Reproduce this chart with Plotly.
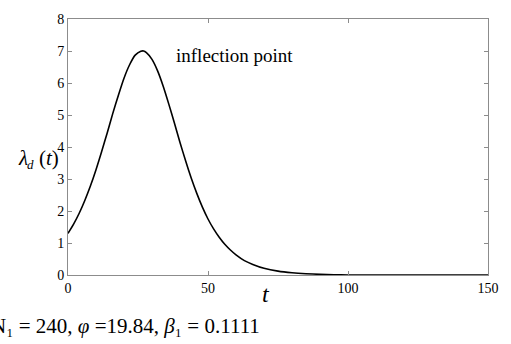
import plotly.graph_objects as go

# Time points and the fitted intensity lambda_d(t)
t_values = [0, 2, 4, 6, 8, 10, 12, 14, 16, 18, 20, 22, 24, 26, 27, 28, 30,
            32, 34, 36, 38, 40, 42, 44, 46, 48, 50, 52, 54, 56, 58, 60, 63,
            66, 70, 75, 80, 85, 90, 95, 100, 110, 120, 130, 140, 150]
lambda_values = [1.30, 1.59, 1.93, 2.33, 2.78, 3.29, 3.85, 4.44, 5.05, 5.62,
                 6.15, 6.57, 6.87, 6.99, 7.00, 6.95, 6.74, 6.38, 5.90, 5.34,
                 4.75, 4.14, 3.57, 3.03, 2.55, 2.12, 1.75, 1.44, 1.18, 0.96,
                 0.78, 0.63, 0.45, 0.33, 0.21, 0.12, 0.07, 0.04, 0.02, 0.01,
                 0.0, 0.0, 0.0, 0.0, 0.0, 0.0]

x_ticks = [0, 50, 100, 150]
y_ticks = [0, 1, 2, 3, 4, 5, 6, 7, 8]

SERIF = "Liberation Serif"
AXIS_GREY = "#8c8c8c"

fig = go.Figure()
fig.add_trace(go.Scatter(
    x=t_values, y=lambda_values, mode="lines",
    line=dict(color="black", width=1.6, shape="spline", smoothing=0.5),
    showlegend=False,
))

axis_common = dict(
    showgrid=False, zeroline=False, showline=True, linecolor=AXIS_GREY,
    linewidth=1, mirror="ticks", ticks="inside", ticklen=4,
    tickcolor=AXIS_GREY, tickfont=dict(family=SERIF, size=14, color="black"),
)

fig.update_xaxes(range=[0, 150], tickvals=x_ticks, **axis_common)
fig.update_yaxes(range=[0, 8], tickvals=y_ticks, **axis_common)


def label(text, x, y, size, xanchor="center", yref="paper"):
    fig.add_annotation(
        text=text, x=x, y=y, xref="paper", yref=yref, xanchor=xanchor,
        yanchor="middle", showarrow=False,
        font=dict(family=SERIF, size=size, color="black"),
    )


label("inflection point", 0.252, 6.85, 19, xanchor="left", yref="y")

# y-axis title: lambda with subscript d, then (t)
label("<i>λ</i>", -0.09, 3.65, 21, xanchor="right", yref="y")
label("<i>d</i>", -0.076, 3.45, 13, xanchor="right", yref="y")
label("(<i>t</i>)", -0.016, 3.65, 21, xanchor="right", yref="y")

# x-axis title
label("<i>t</i>", 0.471, -0.076, 24)

# model parameters
label("N₁ = 240, <i>φ</i> =19.84, <i>β</i>₁ = 0.1111", 0.4616, -0.2, 21,
      xanchor="right")

fig.update_layout(
    width=511, height=344,
    margin=dict(l=68, r=19, t=17, b=69),
    paper_bgcolor="white", plot_bgcolor="white",
)

fig.write_html("out.html")
